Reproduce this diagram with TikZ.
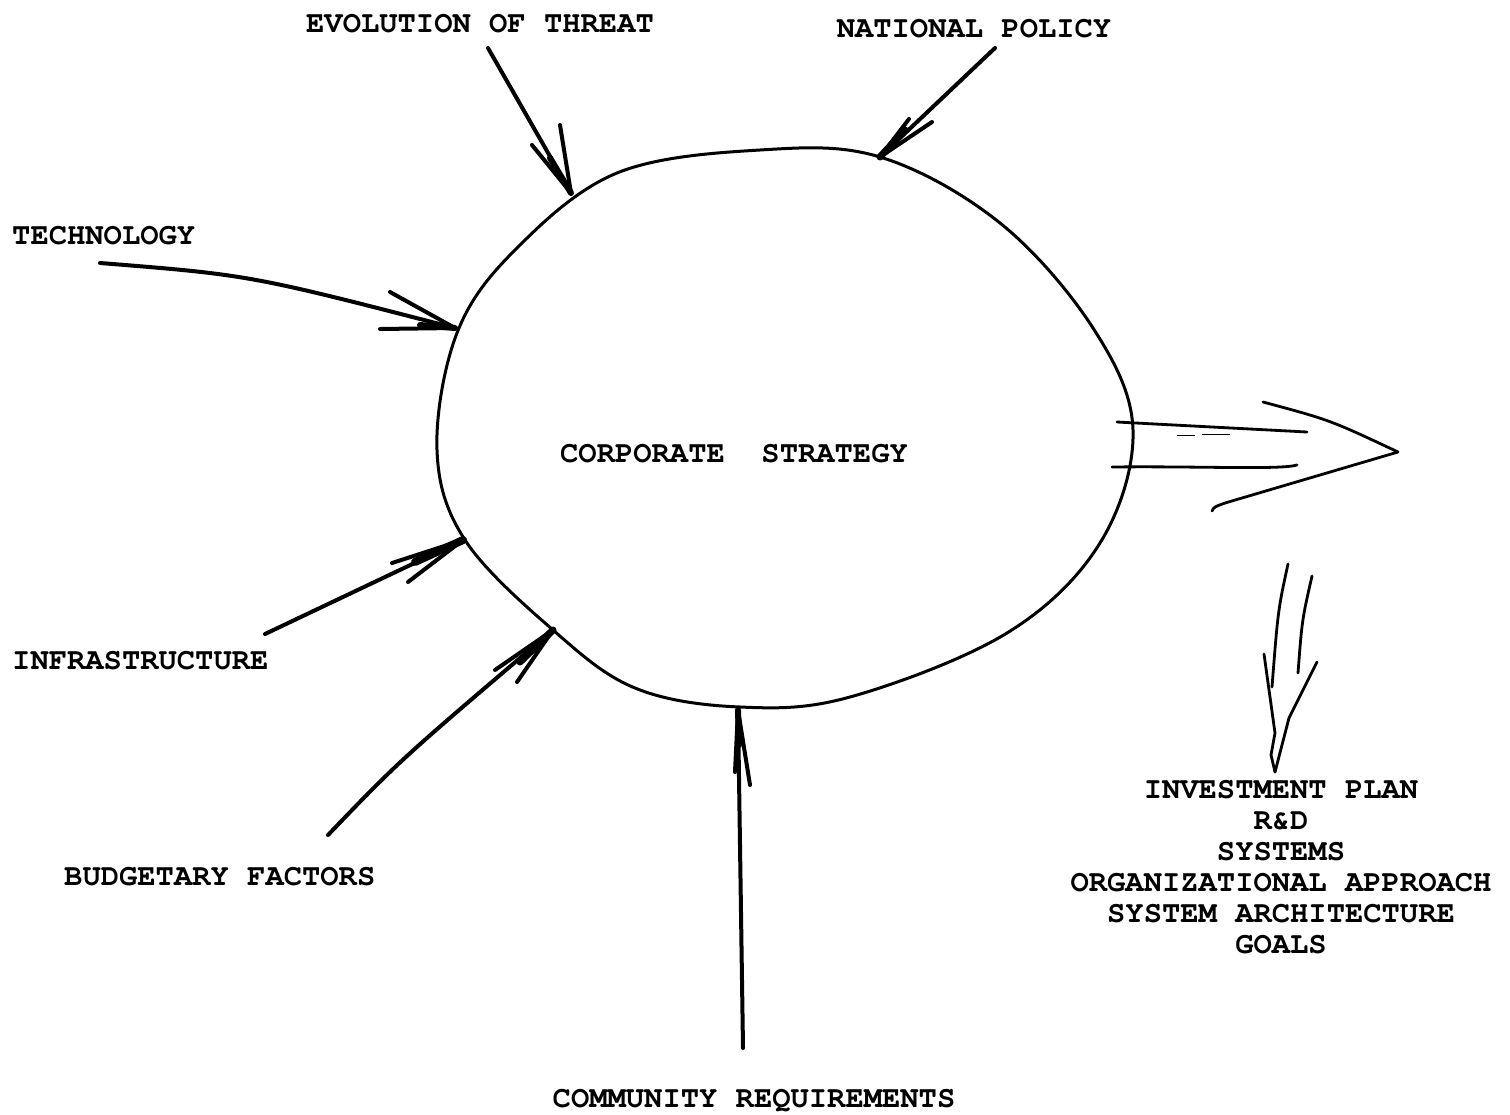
\documentclass[tikz,border=0pt]{standalone}
\usepackage[T1]{fontenc}
\newcommand{\typefont}{\fontencoding{T1}\fontfamily{pcr}\fontseries{b}\fontshape{n}\fontsize{30.5}{31}\selectfont}
\begin{document}
\begin{tikzpicture}[x=1pt,y=-1pt,
  lbl/.style={font=\typefont, inner sep=0pt, anchor=base},
  lblw/.style={font=\typefont, inner sep=0pt, anchor=base west},
  hand/.style={line width=4pt, line cap=round, line join=round},
  blob/.style={line width=3pt},
  thin/.style={line width=2.8pt, line cap=round}]
\useasboundingbox (0,0) rectangle (1510,1114);

% the strategy blob
\draw[blob] plot[smooth cycle, tension=0.6] coordinates {
 (760,150) (880,157) (1000,223) (1093,328) (1133,430) (1100,543)
 (1007,633) (850,697) (740,707) (635,688) (553,630) (465,540)
 (437,450) (457,333) (515,250) (617,173)};
\node[lbl] (cs) at (734,462) {CORPORATE\ \ STRATEGY};

% labels
\node[lbl] (thr) at (480,32) {EVOLUTION OF THREAT};
\node[lbl] (nat) at (974,37) {NATIONAL POLICY};
\node[lblw] (tec) at (12,244) {TECHNOLOGY};
\node[lblw] (inf) at (12,669) {INFRASTRUCTURE};
\node[lblw] (bud) at (64,885) {BUDGETARY FACTORS};
\node[lbl] (com) at (754,1107) {COMMUNITY REQUIREMENTS};
\node[font=\typefont, inner sep=0pt, align=center, anchor=north] (out) at (1281,780)
 {INVESTMENT PLAN\\R\&D\\SYSTEMS\\ORGANIZATIONAL APPROACH\\SYSTEM ARCHITECTURE\\GOALS};

% arrow tips and tails
\coordinate (t1a) at (488,48);  \coordinate (t1b) at (571,193);
\coordinate (t2a) at (995,48);  \coordinate (t2b) at (880,157);
\coordinate (t3a) at (100,263); \coordinate (t3b) at (455,328);
\coordinate (t4a) at (265,634); \coordinate (t4b) at (463,540);
\coordinate (t5a) at (328,835); \coordinate (t5b) at (553,630);
\coordinate (t6a) at (743,1048);\coordinate (t6b) at (738,710);

% threat
\draw[hand] (t1a) -- (t1b);
\draw[hand] (532,145) -- (t1b) -- (560,125);
\draw[hand, line width=6pt] (550,158) -- (t1b);
% national policy
\draw[hand] (t2a) -- (t2b);
\draw[hand] (909,119) -- (t2b) -- (932,122);
\draw[hand, line width=7pt] (905,130) -- (t2b);
% technology
\draw[hand] (t3a) .. controls (250,275) .. (t3b);
\draw[hand] (390,292) -- (t3b) -- (380,329);
\draw[hand, line width=6pt] (420,325) -- (t3b);
% infrastructure
\draw[hand] (t4a) -- (t4b);
\draw[hand] (392,563) -- (t4b) -- (408,582);
\draw[hand, line width=8pt] (415,562) -- (t4b);
% budgetary
\draw[hand] (t5a) .. controls (400,760) .. (t5b);
\draw[hand] (495,670) -- (t5b) -- (517,682);
\draw[hand, line width=7pt] (520,662) -- (t5b);
% community
\draw[hand] (t6a) -- (t6b);
\draw[hand] (735,772) -- (t6b) -- (750,785);
\draw[hand, line width=6pt] (739,745) -- (t6b);

% output arrow to the right
\coordinate (r1) at (1117,422); \coordinate (r2) at (1307,432);
\coordinate (r3) at (1112,467); \coordinate (r4) at (1297,465);
\coordinate (rt) at (1398,452);
\draw[thin] (r1) -- (r2);
\draw[thin] (r3) .. controls (1200,466) and (1280,470) .. (r4);
\draw[line width=1pt] (1177,435) -- (1195,435) (1202,434) -- (1230,434);
\draw[thin] (1263,402) .. controls (1330,420) .. (rt);
\draw[thin] (rt) -- (1225,503) .. controls (1214,507) .. (1212,511);

% output arrow down
\coordinate (d1) at (1288,564); \coordinate (d2) at (1272,687);
\coordinate (d3) at (1312,576); \coordinate (d4) at (1298,673);
\coordinate (dt) at (1275,772);
\draw[thin] (d1) .. controls (1278,610) .. (d2);
\draw[thin] (d3) .. controls (1302,620) .. (d4);
\draw[thin] (1264,654) -- (1275,733) -- (1271,755) -- (dt);
\draw[thin] (1317,662) -- (1289,718) -- (dt);
\end{tikzpicture}
\end{document}
